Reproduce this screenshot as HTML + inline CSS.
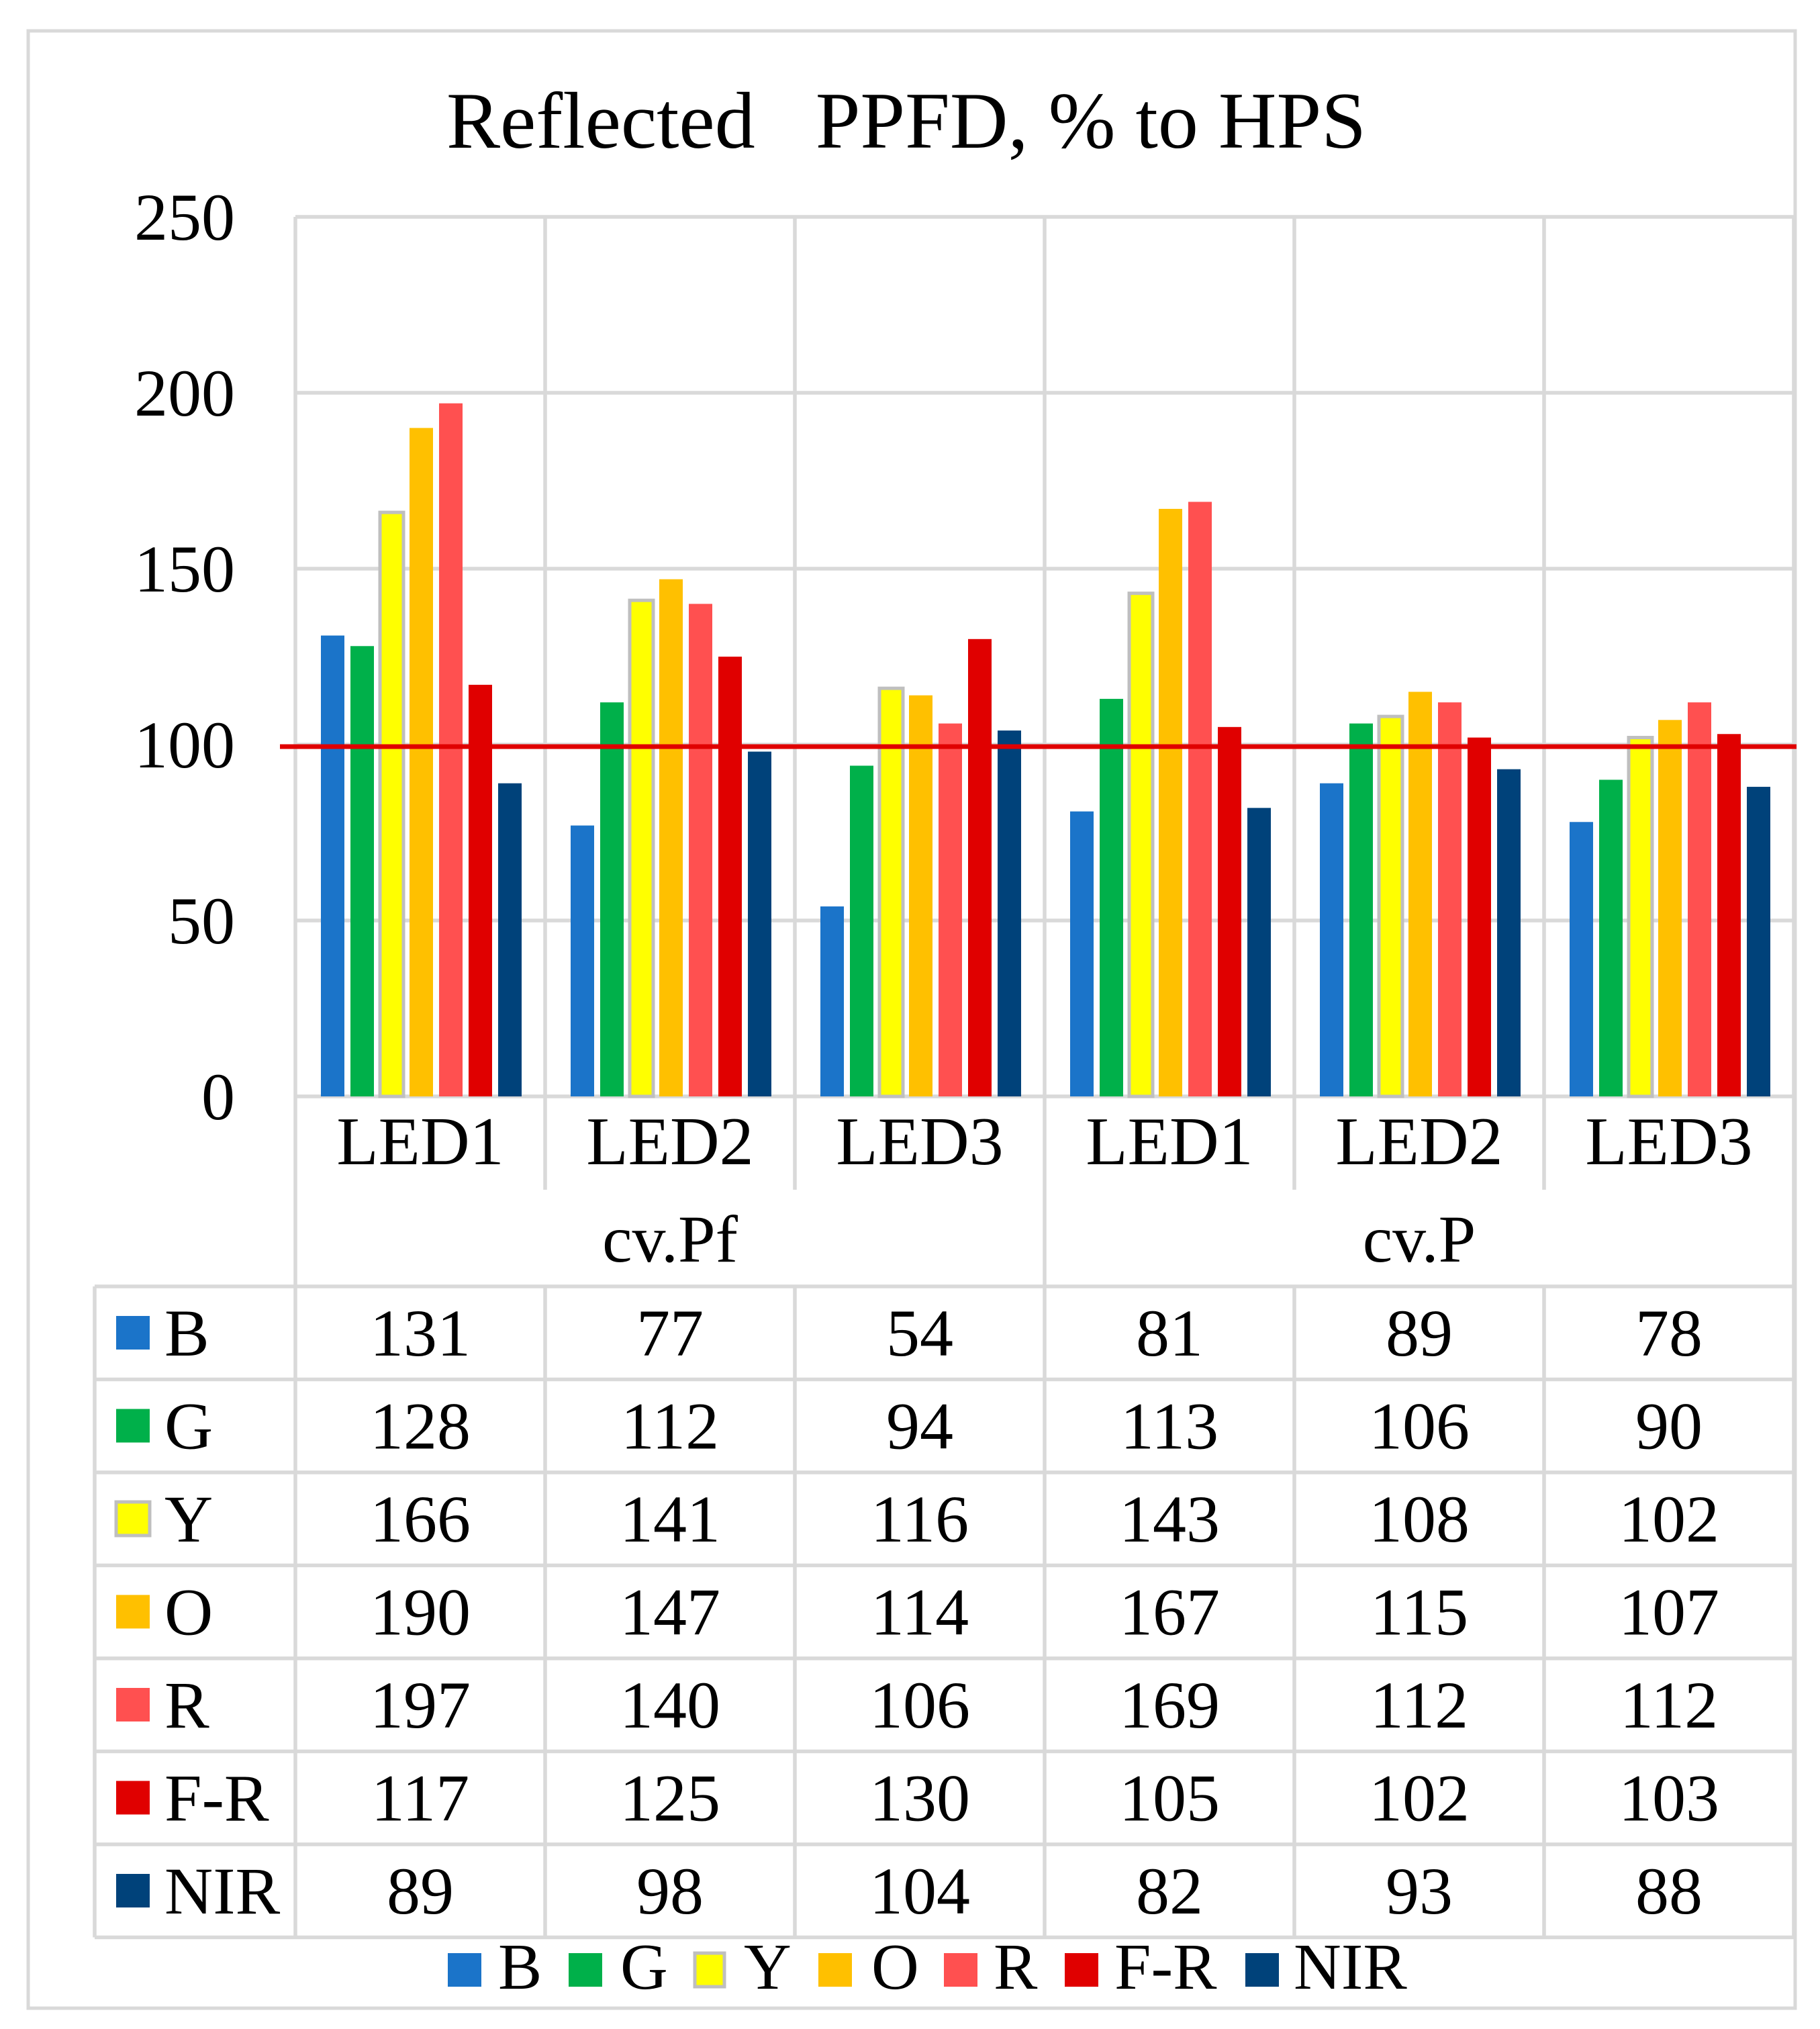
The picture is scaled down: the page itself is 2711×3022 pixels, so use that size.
<!DOCTYPE html>
<html><head><meta charset="utf-8"><style>
html,body{margin:0;padding:0;background:#fff;}
svg{display:block;font-family:"Liberation Serif",serif;}
</style></head><body>
<svg id="chart" width="2711" height="3022" viewBox="0 0 2711 3022" xmlns="http://www.w3.org/2000/svg">
<rect x="0" y="0" width="2711" height="3022" fill="#fff"/>
<rect x="42" y="46" width="2632" height="2945" fill="none" stroke="#d9d9d9" stroke-width="5"/>
<text x="1350" y="220" font-size="120" text-anchor="middle" xml:space="preserve">Reflected   PPFD, % to HPS</text>
<g id="grid"></g><g id="bars"></g><g id="table"></g><g id="legend"></g>
</svg>
<script>
const categories = ["LED1","LED2","LED3","LED1","LED2","LED3"];
const groups = ["cv.Pf","cv.P"];
const seriesNames = ["B","G","Y","O","R","F-R","NIR"];
const seriesColors = ["#1b74c9","#00b04a","#ffff00","#ffc000","#ff5050","#e00000","#00427a"];
const B = [131,77,54,81,89,78];
const G = [128,112,94,113,106,90];
const Y = [166,141,116,143,108,102];
const O = [190,147,114,167,115,107];
const R = [197,140,106,169,112,112];
const FR = [117,125,130,105,102,103];
const NIR = [89,98,104,82,93,88];
const yTicks = [0,50,100,150,200,250];
const refValue = 100;
const series = [B,G,Y,O,R,FR,NIR];

const NS="http://www.w3.org/2000/svg";
const plotL=440, catW=372, y0=1633, yTop=323, yMax=250;
function yScale(v){return y0-(v/yMax)*(y0-yTop);}
function xCat(i){return plotL+i*catW;}
function mk(tag,attrs,parent,txt){const e=document.createElementNS(NS,tag);for(const k in attrs)e.setAttribute(k,attrs[k]);if(txt!==undefined)e.textContent=txt;parent.appendChild(e);return e;}
const grid=document.getElementById('grid'),bars=document.getElementById('bars'),table=document.getElementById('table'),legend=document.getElementById('legend');
const GC="#d9d9d9";
yTicks.forEach(t=>{
  const l=mk('line',{x1:plotL,x2:2674,y1:yScale(t),y2:yScale(t),stroke:GC,'stroke-width':5.5},grid);
  
  
  const tx=mk('text',{x:350,y:yScale(t)+34,'font-size':100,'text-anchor':'end'},grid,String(t));
  
  
});
for(let i=0;i<=categories.length;i++){
  const x=xCat(i);
  let y2=1772;
  if(i===0) y2=2887;
  else if(i===3) y2=1916;
  else if(i===6) y2=2887;
  const l=mk('line',{x1:x,x2:x,y1:yTop,y2:y2,stroke:GC,'stroke-width':5.5},grid);
  
  
}
categories.forEach((c,i)=>{
  const t=mk('text',{x:xCat(i)+catW/2,y:1734,'font-size':102,'text-anchor':'middle'},grid,c);
  
  
});
groups.forEach((g,i)=>{
  const t=mk('text',{x:xCat(i*3)+catW*1.5,y:1879,'font-size':100,'text-anchor':'middle'},grid,g);
  
  
});
const slot=44,bw=35,off=38;
series.forEach((arr,s)=>{
  arr.forEach((v,i)=>{
    const x=xCat(i)+off+s*slot, y=yScale(v);
    const attrs={x:x,y:y,width:bw,height:y0-y,fill:seriesColors[s]};
    if(s===2){attrs.stroke="#bfbfbf";attrs['stroke-width']=5;}
    const r=mk('rect',attrs,bars);
    
    
  });
});
const ref=mk('line',{x1:417,x2:2676,y1:yScale(refValue)+3,y2:yScale(refValue)+3,stroke:"#e00000",'stroke-width':7},bars);


const tTop=1916,rowH=138.5,tL=141,tR=2674;
for(let r=0;r<=series.length;r++){
  const y=tTop+r*rowH;
  const l=mk('line',{x1:tL,x2:tR,y1:y,y2:y,stroke:GC,'stroke-width':5.5},table);
  
  
}
const tl=mk('line',{x1:tL,x2:tL,y1:tTop,y2:tTop+rowH*7,stroke:GC,'stroke-width':5.5},table);


for(let i=1;i<categories.length;i++){
  const l=mk('line',{x1:xCat(i),x2:xCat(i),y1:tTop,y2:tTop+rowH*7,stroke:GC,'stroke-width':5.5},table);
  
  
}
series.forEach((arr,s)=>{
  const ry=tTop+s*rowH;
  const sqA={x:173,y:ry+44,width:50,height:50,fill:seriesColors[s]};
  if(s===2){sqA.stroke="#bfbfbf";sqA['stroke-width']=5;}
  const sq=mk('rect',sqA,table);
  
  
  const lb=mk('text',{x:245,y:ry+103,'font-size':100},table,seriesNames[s]);
  
  
  arr.forEach((v,i)=>{
    const t=mk('text',{x:xCat(i)+catW/2,y:ry+103,'font-size':100,'text-anchor':'middle'},table,String(v));
    
    
  });
});
const legSq=[667,847,1032,1219,1406,1586,1855];
const legTx=[742,924,1108,1298,1480,1660,1927];
seriesNames.forEach((n,s)=>{
  const a={x:legSq[s],y:2909,width:50,height:50,fill:seriesColors[s]};
  if(s===2){a.stroke="#bfbfbf";a['stroke-width']=5;a.x+=3;a.width=44;}
  const r=mk('rect',a,legend);
  
  
  const t=mk('text',{x:legTx[s],y:2962,'font-size':98},legend,n);
  
  
});
</script>
</body></html>
